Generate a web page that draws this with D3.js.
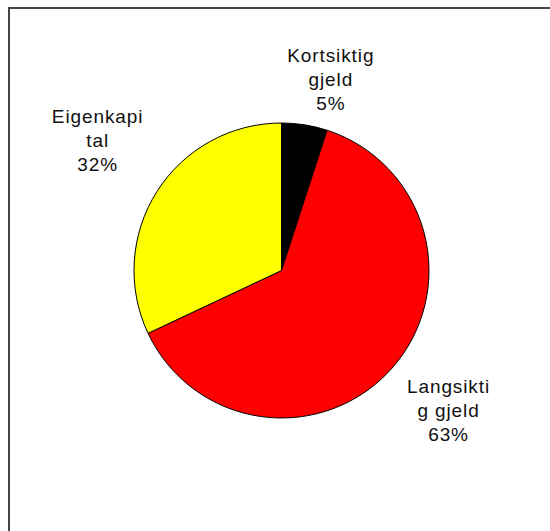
<!DOCTYPE html>
<html>
<head>
<meta charset="utf-8">
<script src="https://cdn.jsdelivr.net/npm/d3@7"></script>
<style>
  body { margin: 0; background: #fff; }
  text { font-family: Arial, "Liberation Sans", sans-serif; font-size: 19px; letter-spacing: 0.9px; fill: #111; }
</style>
</head>
<body>
<svg width="550" height="531"></svg>
<script>
const svg = d3.select('svg');
const width  = +svg.attr('width');
const height = +svg.attr('height');

// Data
const categories = ['Kortsiktig gjeld', 'Langsiktig gjeld', 'Eigenkapital'];
const values     = [5, 63, 32];
const colors     = ['#000000', '#ff0000', '#ffff00'];
// label lines as wrapped in the original
const labelLines = [
  ['Kortsiktig', 'gjeld', '5%'],
  ['Langsikti', 'g gjeld', '63%'],
  ['Eigenkapi', 'tal', '32%']
];
// small label nudges (layout only)
const labelNudge = [[18, 13], [17, 14], [-15, -16]];

// Chart frame (runs off the right and bottom edge)
svg.append('rect')
    .attr('x', 9).attr('y', 8)
    .attr('width', width + 20).attr('height', height + 20)
    .attr('fill', 'none')
    .attr('stroke', '#444')
    .attr('stroke-width', 2);

const cx = 281.5, cy = 270.5, radius = 147.5;

const pie = d3.pie().sort(null).value(d => d);
const arc = d3.arc().innerRadius(0).outerRadius(radius);
const labelArc = d3.arc().innerRadius(200).outerRadius(200);

const g = svg.append('g').attr('transform', `translate(${cx},${cy})`);
const arcs = pie(values);

g.selectAll('path.slice').data(arcs)
  .enter().append('path')
    .attr('class', 'slice')
    .attr('d', arc)
    .attr('fill', (d, i) => colors[i])
    .attr('stroke', '#000')
    .attr('stroke-width', 1)
  .append('title')
    .text((d, i) => categories[i]);

// Labels
const lineHeight = 24;
g.selectAll('text.label').data(arcs)
  .enter().append('text')
    .attr('class', 'label')
    .attr('text-anchor', 'middle')
    .attr('transform', (d, i) => {
      const [x, y] = labelArc.centroid(d);
      return `translate(${x + labelNudge[i][0]},${y + labelNudge[i][1]})`;
    })
    .each(function(d, i) {
      const t = d3.select(this);
      labelLines[i].forEach((line, j) => {
        t.append('tspan')
          .attr('x', 0)
          .attr('y', (j - 1) * lineHeight)
          .text(line);
      });
    });
</script>
</body>
</html>
